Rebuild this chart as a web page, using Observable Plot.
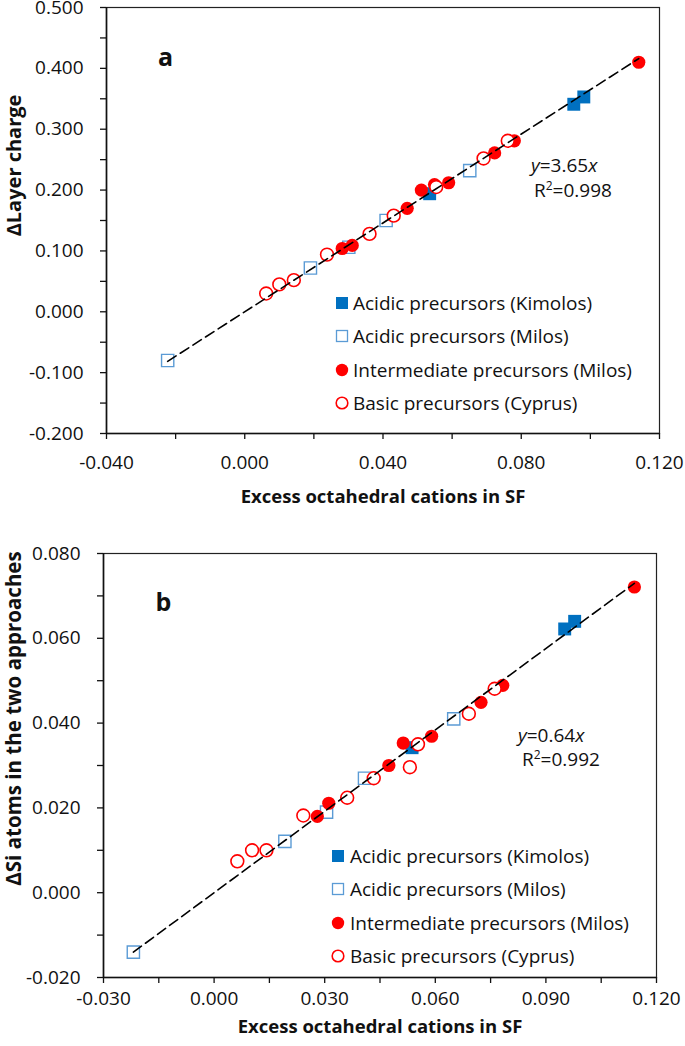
<!DOCTYPE html>
<html>
<head>
<meta charset="utf-8">
<script src="https://cdn.jsdelivr.net/npm/d3@7"></script>
<script src="https://cdn.jsdelivr.net/npm/@observablehq/plot@0.6"></script>
<style>
  body { margin: 0; background: #fff; }
  #wrap { position: relative; width: 685px; height: 1046px; font-family: "Open Sans", sans-serif; }
  #wrap svg { display: block; }
  .ov { position: absolute; white-space: nowrap; font-size: 19px; color: #111; line-height: 1; transform: translateY(-50%); }
  .lg { position: absolute; white-space: nowrap; font-size: 19px; color: #111; line-height: 1; }
  .lg svg { position: absolute; }
  .lg span { position: absolute; transform: translateY(-50%); }
</style>
</head>
<body>
<div id="wrap"></div>
<script>
// ---------- data (panel a) ----------
const aKimolosX = [0.0535, 0.0952, 0.0981];
const aKimolosY = [0.194, 0.341, 0.353];
const aMilosX = [-0.0223, 0.0190, 0.0301, 0.0409, 0.0651];
const aMilosY = [-0.080, 0.072, 0.106, 0.150, 0.232];
const aInterX = [0.0282, 0.0311, 0.0470, 0.0511, 0.0549, 0.0590, 0.0723, 0.0780, 0.1140];
const aInterY = [0.104, 0.109, 0.170, 0.200, 0.209, 0.212, 0.261, 0.281, 0.410];
const aBasicX = [0.0062, 0.0100, 0.0142, 0.0238, 0.0361, 0.0431, 0.0554, 0.0691, 0.0761];
const aBasicY = [0.030, 0.045, 0.052, 0.094, 0.128, 0.158, 0.205, 0.252, 0.281];
const aSlope = 3.65;
const aR2 = "0.998";
const aXTicks = [-0.04, 0, 0.04, 0.08, 0.12];
const aXMinor = [-0.02, 0.02, 0.06, 0.10];
const aYTicks = [-0.2, -0.1, 0, 0.1, 0.2, 0.3, 0.4, 0.5];
const aYMinor = [-0.15, -0.05, 0.05, 0.15, 0.25, 0.35, 0.45];
const aXDomain = [-0.04, 0.12];
const aYDomain = [-0.2, 0.5];
const aYLabel = "ΔLayer charge";

// ---------- data (panel b) ----------
const bKimolosX = [0.0537, 0.0951, 0.0978];
const bKimolosY = [0.0342, 0.0622, 0.0640];
const bMilosX = [-0.0219, 0.0192, 0.0305, 0.0408, 0.0650];
const bMilosY = [-0.0140, 0.0121, 0.0190, 0.0270, 0.0410];
const bInterX = [0.0280, 0.0311, 0.0474, 0.0513, 0.0590, 0.0724, 0.0783, 0.1140];
const bInterY = [0.0180, 0.0211, 0.0300, 0.0353, 0.0369, 0.0449, 0.0489, 0.0721];
const bBasicX = [0.0063, 0.0103, 0.0142, 0.0242, 0.0361, 0.0433, 0.0531, 0.0553, 0.0691, 0.0761];
const bBasicY = [0.0074, 0.0100, 0.0100, 0.0182, 0.0224, 0.0270, 0.0296, 0.0350, 0.0422, 0.0481];
const bSlope = 0.64;
const bR2 = "0.992";
const bXTicks = [-0.03, 0, 0.03, 0.06, 0.09, 0.12];
const bXMinor = [-0.015, 0.015, 0.045, 0.075, 0.105];
const bYTicks = [-0.02, 0, 0.02, 0.04, 0.06, 0.08];
const bYMinor = [-0.01, 0.01, 0.03, 0.05, 0.07];
const bXDomain = [-0.03, 0.12];
const bYDomain = [-0.02, 0.08];
const bYLabel = "ΔSi atoms in the two approaches";

const xLabel = "Excess octahedral cations in SF";
const seriesNames = ["Acidic precursors (Kimolos)", "Acidic precursors (Milos)", "Intermediate precursors (Milos)", "Basic precursors (Cyprus)"];

const DARKBLUE = "#0070C0", LIGHTBLUE = "#5B9BD5", RED = "#FF0000";
const fmt = d => d.toFixed(3);
const zip = (xs, ys) => xs.map((x, i) => ({x, y: ys[i]}));

function panel(o) {
  const all = [...o.kx, ...o.mx, ...o.ix, ...o.bx];
  const lineData = [d3.min(all), d3.max(all)].map(x => ({x, y: o.slope * x}));
  return Plot.plot({
    width: 685, height: o.height,
    marginTop: o.mt, marginBottom: o.mb, marginLeft: o.ml, marginRight: o.mr,
    style: {fontFamily: "Open Sans", fontSize: "19px", color: "#111", background: "white", overflow: "visible"},
    x: {domain: o.xDomain, axis: null},
    y: {domain: o.yDomain, axis: null},
    marks: [
      Plot.frame({stroke: "#222", strokeWidth: 1.2}),
      Plot.axisX({ticks: o.xMinor, tickSize: 6, tickFormat: () => "", label: null, anchor: "bottom", strokeWidth: 1.3}),
      Plot.axisX({ticks: o.xTicks, tickSize: 6, tickPadding: o.xpad, tickFormat: fmt, label: null, anchor: "bottom", strokeWidth: 1.3}),
      Plot.axisY({ticks: o.yMinor, tickSize: 6, tickFormat: () => "", label: null, anchor: "left", strokeWidth: 1.3}),
      Plot.axisY({ticks: o.yTicks, tickSize: 6, tickPadding: 17, tickFormat: fmt, label: null, anchor: "left", strokeWidth: 1.3}),
      Plot.ruleY([o.yDomain[0]], {stroke: "#111", strokeWidth: 1.6}),
      Plot.ruleX([o.xDomain[0]], {stroke: "#111", strokeWidth: 1.6}),
      Plot.dot(zip(o.kx, o.ky), {x: "x", y: "y", symbol: "square", r: 7.3, fill: DARKBLUE, stroke: "none"}),
      Plot.dot(zip(o.mx, o.my), {x: "x", y: "y", symbol: "square", r: 6.9, fill: "white", stroke: LIGHTBLUE, strokeWidth: 1.4}),
      Plot.dot(zip(o.ix, o.iy), {x: "x", y: "y", symbol: "circle", r: 6.6, fill: RED, stroke: "none"}),
      Plot.dot(zip(o.bx, o.by), {x: "x", y: "y", symbol: "circle", r: 6.4, fill: "white", stroke: RED, strokeWidth: 1.6}),
      Plot.line(lineData, {x: "x", y: "y", stroke: "black", strokeWidth: 1.6, strokeDasharray: "10,5"}),
      Plot.text([o.yLabel], {frameAnchor: "left", textAnchor: "middle", lineAnchor: "middle", dx: o.ylx, dy: o.yly, rotate: -90, fontWeight: "bold", fontSize: o.ylfs, fill: "#111"}),
      Plot.text([xLabel], {frameAnchor: "bottom", textAnchor: "middle", lineAnchor: "middle", dy: o.xly, fontWeight: "bold", fontSize: 18.5, fill: "#111"}),
      Plot.text([o.letter], {frameAnchor: "top-left", textAnchor: "middle", lineAnchor: "middle", dx: o.ltx, dy: o.lty, fontWeight: "bold", fontSize: 25, fill: "#111"})
    ]
  });
}

const wrap = document.getElementById("wrap");

const svgA = panel({
  height: 520, mt: 7, mb: 87, ml: 106, mr: 26, xpad: 16,
  xDomain: aXDomain, yDomain: aYDomain, xTicks: aXTicks, xMinor: aXMinor, yTicks: aYTicks, yMinor: aYMinor,
  kx: aKimolosX, ky: aKimolosY, mx: aMilosX, my: aMilosY, ix: aInterX, iy: aInterY, bx: aBasicX, by: aBasicY,
  slope: aSlope, yLabel: aYLabel, ylx: -92, yly: -55, ylfs: 20, xly: 64, letter: "a", ltx: 59, lty: 50
});
const svgB = panel({
  height: 526, mt: 33, mb: 69, ml: 103, mr: 29, xpad: 8,
  xDomain: bXDomain, yDomain: bYDomain, xTicks: bXTicks, xMinor: bXMinor, yTicks: bYTicks, yMinor: bYMinor,
  kx: bKimolosX, ky: bKimolosY, mx: bMilosX, my: bMilosY, ix: bInterX, iy: bInterY, bx: bBasicX, by: bBasicY,
  slope: bSlope, yLabel: bYLabel, ylx: -89, yly: -47, ylfs: 20.5, xly: 50, letter: "b", ltx: 60, lty: 49
});
wrap.appendChild(svgA);
wrap.appendChild(svgB);

// ---------- overlays: equations ----------
function addText(html, left, top) {
  const d = document.createElement("div");
  d.className = "ov";
  d.style.left = left + "px";
  d.style.top = top + "px";
  d.innerHTML = html;
  wrap.appendChild(d);
}
addText(`<i>y</i>=${aSlope.toFixed(2)}<i>x</i>`, 531, 165);
addText(`R<sup style="font-size:12px;vertical-align:7px">2</sup>=${aR2}`, 534, 190);
addText(`<i>y</i>=${bSlope.toFixed(2)}<i>x</i>`, 518, 735);
addText(`R<sup style="font-size:12px;vertical-align:7px">2</sup>=${bR2}`, 522, 759);

// ---------- overlays: legends ----------
const swatches = [
  `<rect x="1" y="1" width="12" height="12" fill="${DARKBLUE}"/>`,
  `<rect x="1.5" y="1.5" width="11" height="11" fill="white" stroke="${LIGHTBLUE}" stroke-width="1.3"/>`,
  `<circle cx="7" cy="7" r="6.2" fill="${RED}"/>`,
  `<circle cx="7" cy="7" r="5.8" fill="white" stroke="${RED}" stroke-width="1.6"/>`
];
function addLegend(markerX, textX, rowY, step) {
  seriesNames.forEach((name, i) => {
    const y = rowY + i * step;
    const g = document.createElement("div");
    g.className = "lg";
    g.style.left = "0px"; g.style.top = "0px";
    g.innerHTML = `<svg width="14" height="14" style="left:${markerX - 7}px;top:${y - 7}px">${swatches[i]}</svg><span style="left:${textX}px;top:${y}px">${name}</span>`;
    wrap.appendChild(g);
  });
}
addLegend(342, 353, 303, 33.4);
addLegend(338, 350, 856, 33.4);
</script>
</body>
</html>
